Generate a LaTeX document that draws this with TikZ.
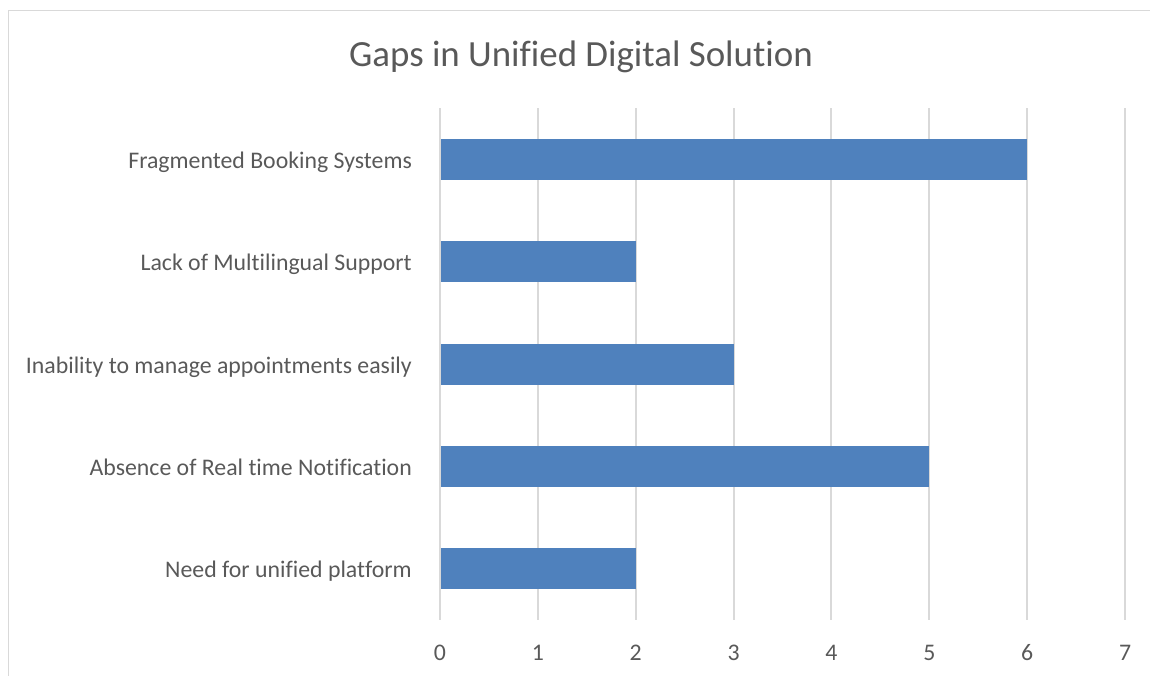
\documentclass[tikz,border=0pt]{standalone}
\usepackage{fontspec}
\setmainfont{Carlito}[Ligatures=NoCommon]
\definecolor{barblue}{HTML}{4F81BD}
\definecolor{gridgray}{HTML}{D9D9D9}
\definecolor{txtgray}{HTML}{595959}
\begin{document}
\begin{tikzpicture}[x=1pt,y=-1pt,
	catlabel/.style={txtgray,inner sep=0pt,anchor=base east,font=\fontsize{23.8}{28}\selectfont},
	ticklabel/.style={txtgray,inner sep=0pt,anchor=base,font=\fontsize{23.8}{28}\selectfont}]
	\useasboundingbox (0,0) rectangle (1150,675);
	% outer frame, cut on the right and bottom
	\draw[gridgray,line width=1.6pt] (8.5,676) -- (8.5,10.5) -- (1151,10.5);
	\node[txtgray,inner sep=0pt,anchor=base,font=\fontsize{36.9}{43}\selectfont] (title) at (581,66) {Gaps in Unified Digital Solution};
	% grid and axis numbers
	\foreach \x in {0,...,7}\draw[gridgray,line width=2pt] (440+97.86*\x,108)--(440+97.86*\x,620) coordinate (g\x);
	\foreach \x in {0,...,7}\node[ticklabel] (t\x) at (440+97.86*\x,660) {\x};
	% bars
	\foreach \v/\lab [count=\i] in {6/Fragmented Booking Systems,2/Lack of Multilingual Support,3/Inability to manage appointments easily,5/Absence of Real time Notification,2/Need for unified platform}{
		\fill[barblue] (441,108+102.4*\i-51.2-20.5) rectangle (440+97.86*\v,108+102.4*\i-51.2+20.5);
		\node[catlabel] (c\i) at (412,108+102.4*\i-51.2+9) {\lab};
	}
\end{tikzpicture}
\end{document}
